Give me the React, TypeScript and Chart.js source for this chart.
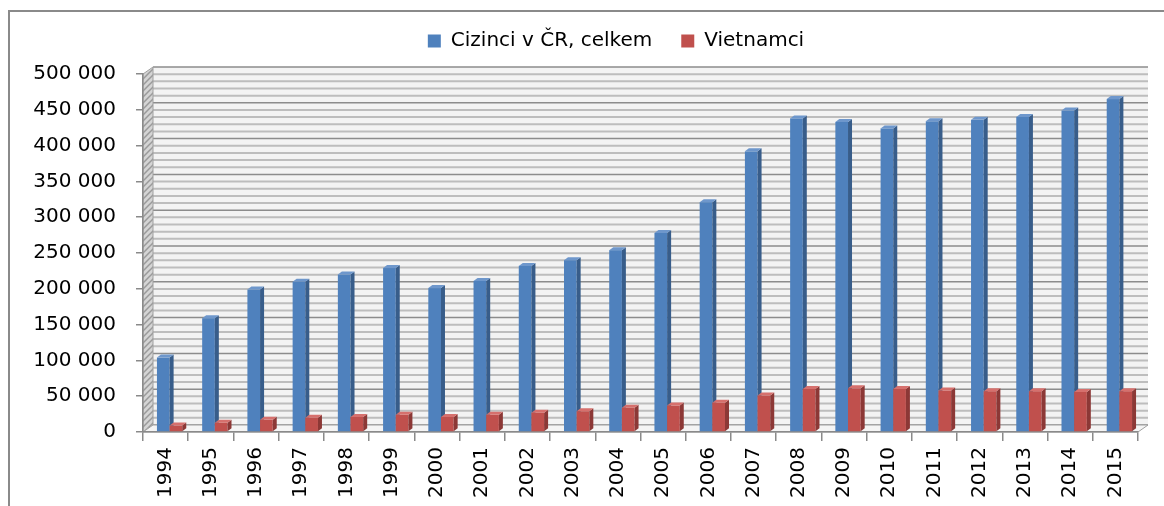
import React, { useEffect, useRef } from "react";
import { Chart, registerables } from "chart.js";

Chart.register(...registerables);

const years = ["1994", "1995", "1996", "1997", "1998", "1999", "2000", "2001", "2002", "2003", "2004", "2005", "2006", "2007", "2008", "2009", "2010", "2011", "2012", "2013", "2014", "2015"];
const totalForeigners = [104000, 159000, 199000, 210000, 220000, 229000, 201000, 211000, 232000, 240000, 254000, 278000, 321000, 392000, 438000, 433000, 424000, 434000, 436000, 440000, 449000, 465000];
const vietnamese = [9000, 13000, 17000, 20000, 21000, 24000, 21000, 24000, 27000, 29000, 34000, 37000, 41000, 51000, 60000, 61000, 60000, 58000, 57000, 57000, 56000, 57000];
const seriesNames = ["Cizinci v ČR, celkem", "Vietnamci"];
const yMin = 0;
const yMax = 500000;
const yStep = 50000;
const yMinorStep = 10000;

const FONT = "'DejaVu Sans', sans-serif";
const DX = 10;
const DY = -7;
const BAR_SHIFT = 4;
const SIDE_X = 4;
const SIDE_Y = 3;
const LEGEND_EXTRA_H = 13;
const LEGEND_SHIFT_X = 47;

const faceColors = [
  { front: "#4F81BD", side: "#385D8A", top: "#6E97CC" },
  { front: "#C0504D", side: "#8C3836", top: "#D6706D" },
];

function fmt(v: number) {
  return String(v).replace(/\B(?=(\d{3})+(?!\d))/g, " ");
}

function makeHatch() {
  const c = document.createElement("canvas");
  c.width = 6;
  c.height = 6;
  const x = c.getContext("2d")!;
  x.fillStyle = "#d4d4d4";
  x.fillRect(0, 0, 6, 6);
  x.strokeStyle = "#9a9a9a";
  x.lineWidth = 1.5;
  x.beginPath();
  x.moveTo(0, 6);
  x.lineTo(6, 0);
  x.moveTo(-3, 3);
  x.lineTo(3, -3);
  x.moveTo(3, 9);
  x.lineTo(9, 3);
  x.stroke();
  return c;
}

const scenePlugin = {
  id: "scene3d",
  beforeLayout(chart: any) {
    const lg = chart.legend;
    if (lg && !lg.__patched) {
      const orig = lg.fit;
      lg.fit = function () {
        orig.call(this);
        this.height += LEGEND_EXTRA_H;
      };
      lg.__patched = true;
    }
  },
  afterLayout(chart: any) {
    const lg = chart.legend;
    if (lg) {
      lg.left += LEGEND_SHIFT_X;
      lg.right += LEGEND_SHIFT_X;
    }
  },
  beforeDraw(chart: any) {
    const ctx = chart.ctx;
    const ca = chart.chartArea;
    const y = chart.scales.y;
    ctx.save();
    ctx.strokeStyle = "#8a8a8a";
    ctx.lineWidth = 2;
    ctx.strokeRect(9, 11, 1300, 700);
    const bl = ca.left + DX;
    const br = ca.right + DX;
    ctx.fillStyle = "#f3f3f3";
    ctx.fillRect(bl, ca.top + DY, br - bl, ca.bottom - ca.top);
    for (let v = yMin; v <= yMax; v += yMinorStep) {
      const py = y.getPixelForValue(v) + DY;
      const major = v % yStep === 0;
      ctx.strokeStyle = major ? "#8c8c8c" : "#bdbdbd";
      ctx.lineWidth = major ? 1.5 : 2;
      ctx.beginPath();
      ctx.moveTo(bl, py);
      ctx.lineTo(br, py);
      ctx.stroke();
    }
    const pat = ctx.createPattern(makeHatch(), "repeat");
    ctx.fillStyle = pat;
    ctx.beginPath();
    ctx.moveTo(ca.left, ca.top);
    ctx.lineTo(ca.left + DX, ca.top + DY);
    ctx.lineTo(ca.left + DX, ca.bottom + DY);
    ctx.lineTo(ca.left, ca.bottom);
    ctx.closePath();
    ctx.fill();
    ctx.strokeStyle = "#a0a0a0";
    ctx.lineWidth = 1;
    ctx.stroke();
    ctx.fillStyle = "#f4f4f4";
    ctx.beginPath();
    ctx.moveTo(ca.left, ca.bottom);
    ctx.lineTo(ca.right, ca.bottom);
    ctx.lineTo(ca.right + DX, ca.bottom + DY);
    ctx.lineTo(ca.left + DX, ca.bottom + DY);
    ctx.closePath();
    ctx.fill();
    ctx.strokeStyle = "#a0a0a0";
    ctx.stroke();
    ctx.restore();
  },
  beforeDatasetsDraw(chart: any) {
    const ctx = chart.ctx;
    ctx.save();
    ctx.translate(BAR_SHIFT, 0);
    chart.data.datasets.forEach((_ds: any, di: number) => {
      const meta = chart.getDatasetMeta(di);
      const col = faceColors[di] || faceColors[0];
      meta.data.forEach((bar: any) => {
        const p = bar.getProps(["x", "y", "base", "width"], true);
        const l = p.x - p.width / 2;
        const r = p.x + p.width / 2;
        ctx.fillStyle = col.front;
        ctx.fillRect(l, p.y, r - l, p.base - p.y);
        ctx.fillStyle = col.side;
        ctx.beginPath();
        ctx.moveTo(r, p.y);
        ctx.lineTo(r + SIDE_X, p.y - SIDE_Y);
        ctx.lineTo(r + SIDE_X, p.base - SIDE_Y);
        ctx.lineTo(r, p.base);
        ctx.closePath();
        ctx.fill();
        ctx.fillStyle = col.top;
        ctx.beginPath();
        ctx.moveTo(l, p.y);
        ctx.lineTo(l + SIDE_X, p.y - SIDE_Y);
        ctx.lineTo(r + SIDE_X, p.y - SIDE_Y);
        ctx.lineTo(r, p.y);
        ctx.closePath();
        ctx.fill();
      });
    });
    ctx.restore();
    return false;
  },
};

export default function App() {
  const ref = useRef<HTMLCanvasElement | null>(null);
  useEffect(() => {
    if (!ref.current) return;
    const chart = new Chart(ref.current, {
      type: "bar",
      data: {
        labels: years,
        datasets: [
          { label: seriesNames[0], data: totalForeigners, backgroundColor: "#4F81BD", borderWidth: 0 },
          { label: seriesNames[1], data: vietnamese, backgroundColor: "#C0504D", borderWidth: 0 },
        ],
      },
      options: {
        animation: false,
        responsive: false,
        datasets: { bar: { categoryPercentage: 0.56, barPercentage: 1.0 } },
        layout: { padding: { top: 2, right: 26, bottom: 0, left: 0 } },
        plugins: {
          legend: {
            position: "top",
            labels: {
              font: { family: FONT, size: 20 },
              color: "#000",
              boxWidth: 13,
              boxHeight: 13,
              padding: 29,
            },
          },
          tooltip: { enabled: false },
        },
        scales: {
          x: {
            grid: { drawOnChartArea: false, drawTicks: true, tickLength: 9, color: "#8a8a8a", lineWidth: 1.5 },
            border: { display: true, color: "#8a8a8a", width: 1.5 },
            ticks: { font: { family: FONT, size: 20 }, color: "#000", minRotation: 90, maxRotation: 90, padding: 6, autoSkip: false },
            afterFit: (s: any) => { s.height = 74; },
          },
          y: {
            min: yMin,
            max: yMax,
            grid: { drawOnChartArea: false, drawTicks: true, tickLength: 7, color: "#8a8a8a", lineWidth: 1.5 },
            border: { display: true, color: "#8a8a8a", width: 1.5 },
            ticks: { stepSize: yStep, font: { family: FONT, size: 20 }, color: "#000", padding: 20, callback: (v: any) => fmt(Number(v)) },
            afterFit: (s: any) => { s.width = 143; },
          },
        },
      },
      plugins: [scenePlugin],
    });
    return () => chart.destroy();
  }, []);
  return (
    <div style={{ position: "fixed", left: 0, top: 0, width: 1164, height: 506, background: "#fff" }}>
      <canvas ref={ref} width={1164} height={506} style={{ display: "block" }} />
    </div>
  );
}
